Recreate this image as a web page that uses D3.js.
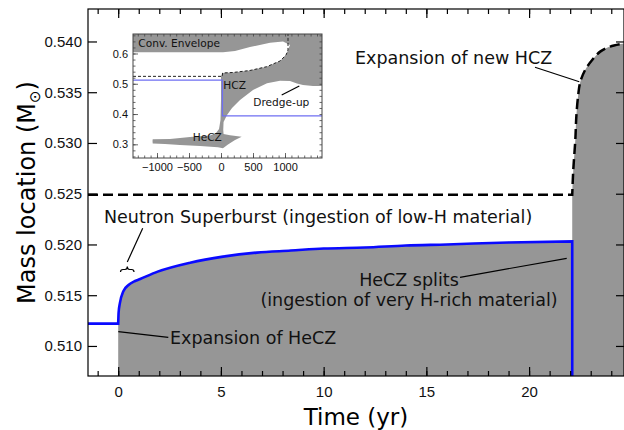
<!DOCTYPE html>
<html>
<head>
<meta charset="utf-8">
<script src="https://cdn.jsdelivr.net/npm/d3@7"></script>
<style>
  html, body { margin: 0; padding: 0; background: #fff; }
  svg { display: block; }
</style>
</head>
<body>
<div id="chart"></div>
<script>
// ---- main panel data (time in yr, mass in Msun) ----
const xDomain = [-1.47, 24.62]
const yDomain = [0.50704, 0.5432]
const xMajor = [0, 5, 10, 15, 20]
const xMinor = d3.range(-1, 25)
const yMajor = [0.510, 0.515, 0.520, 0.525, 0.530, 0.535, 0.540]

const heczBefore = 0.5122   // top of HeCZ before the burst
const splitTime = 22.1      // HeCZ splits
const hczBase = 0.5249      // base of H-rich layer (dashed)

// top of the HeCZ after the neutron superburst (blue)
const hecz_t = [0, 0.02, 0.08, 0.25, 0.5, 0.82, 1.07, 1.89, 3.5, 5.1, 6.75, 8.4, 10, 12, 14, 16, 19, 22.1]
const hecz_m = [0.5122, 0.5133, 0.5142, 0.5154, 0.5160, 0.5164, 0.5166, 0.5173, 0.5182, 0.5188, 0.5192, 0.5194, 0.5196, 0.5197, 0.5199, 0.5200, 0.5202, 0.5203]

// boundary of the new HCZ (dashed)
const newHcz_t = [22.1, 22.15, 22.25, 22.3, 22.39, 22.49, 22.73, 23.08, 23.46, 23.95, 24.62]
const newHcz_m = [0.5249, 0.5273, 0.5303, 0.5326, 0.5347, 0.5360, 0.5372, 0.5382, 0.5390, 0.5395, 0.5398]

// ---- inset data (time in yr, mass in Msun) ----
const insetXDomain = [-1375, 1578]
const insetYDomain = [0.2548, 0.6644]
const insetXMajor = [-1000, -500, 0, 500, 1000]
const insetXMinor = d3.range(-1300, 1600, 100)
const insetYMajor = [0.3, 0.4, 0.5, 0.6]
const insetYMinor = d3.range(0.26, 0.665, 0.02)

// convective regions outline: envelope, HCZ, connecting strip, HeCZ
const insetConv = [
  [-1375, 0.6644], [1578, 0.6644], [1578, 0.4927], [1437, 0.4927], [1281, 0.4960],
  [1187, 0.5010], [1078, 0.5092], [922, 0.5102], [719, 0.5017], [500, 0.4795],
  [297, 0.4465], [172, 0.4201], [94, 0.3970], [40, 0.3740], [35, 0.3475],
  [40, 0.3343], [141, 0.3300], [323, 0.3254], [219, 0.3145], [109, 0.2997],
  [31, 0.2871], [-47, 0.2904], [-328, 0.2947], [-641, 0.2980], [-875, 0.3013],
  [-1067, 0.3030], [-1070, 0.3112], [-1067, 0.3168], [-797, 0.3178], [-484, 0.3244],
  [-172, 0.3294], [-78, 0.3376], [-31, 0.3508], [-8, 0.3805], [0, 0.4465],
  [0, 0.5257], [23, 0.5356], [188, 0.5373], [453, 0.5439], [714, 0.5564],
  [922, 0.5752], [1016, 0.5950], [1047, 0.6116], [1078, 0.6281], [969, 0.6396],
  [766, 0.6356], [453, 0.6215], [219, 0.6083], [31, 0.6040], [-1375, 0.6040]
]
const insetDash = [
  [-1375, 0.5245], [22, 0.5245], [23, 0.5356], [188, 0.5373], [453, 0.5439],
  [714, 0.5564], [922, 0.5752], [1016, 0.5950], [1047, 0.6116], [1047, 0.6644]
]
const insetBlue = [[-1375, 0.5122], [22, 0.5122], [22, 0.394], [1578, 0.394]]

const gray = "#969696"
const tickFont = "'Liberation Sans', Arial, sans-serif"
const textFont = "'DejaVu Sans', sans-serif"

const width = 624
const height = 430
const svg = d3.select("#chart").append("svg")
    .attr("width", width)
    .attr("height", height)

const x = d3.scaleLinear().domain(xDomain).range([88, 624])
const y = d3.scaleLinear().domain(yDomain).range([376, 9])

svg.append("clipPath").attr("id", "plot-clip")
    .append("rect")
    .attr("x", x(xDomain[0])).attr("y", y(yDomain[1]))
    .attr("width", x(xDomain[1]) - x(xDomain[0]))
    .attr("height", y(yDomain[0]) - y(yDomain[1]))

const plot = svg.append("g").attr("clip-path", "url(#plot-clip)")

const heczPts = hecz_t.map((t, i) => [t, hecz_m[i]])
const newPts = newHcz_t.map((t, i) => [t, newHcz_m[i]])

// HeCZ after the burst
plot.append("path")
    .datum(heczPts)
    .attr("fill", gray)
    .attr("d", d3.area()
        .x(d => x(d[0]))
        .y0(y(yDomain[0]))
        .y1(d => y(d[1]))
        .curve(d3.curveMonotoneX))

// new HCZ
const newCurve = d3.line()
    .x(d => x(d[0]))
    .y(d => y(d[1]))
    .curve(d3.curveCatmullRom.alpha(0.5))(newPts)
plot.append("path")
    .attr("fill", gray)
    .attr("d", `M${x(splitTime)},${y(yDomain[0])}L${newCurve.slice(1)}L${x(xDomain[1])},${y(yDomain[0])}Z`)

// blue: top of HeCZ
const blueCurve = d3.line()
    .x(d => x(d[0]))
    .y(d => y(d[1]))
    .curve(d3.curveMonotoneX)(heczPts)
plot.append("path")
    .attr("fill", "none")
    .attr("stroke", "#0a0aff")
    .attr("stroke-width", 2.6)
    .attr("d", `M${x(xDomain[0])},${y(heczBefore)}L${blueCurve.slice(1)}L${x(splitTime)},${y(yDomain[0]) + 2}`)

// dashed: H-rich boundary / new HCZ
plot.append("path")
    .attr("fill", "none")
    .attr("stroke", "#000")
    .attr("stroke-width", 2.5)
    .attr("stroke-dasharray", "10,5")
    .attr("d", `M${x(xDomain[0])},${y(hczBase)}L${newCurve.slice(1)}`)

// axes (ticks inward on all sides)
function styleAxis(g) {
    g.select(".domain").remove()
    g.selectAll(".tick line").attr("stroke", "#000").attr("stroke-width", 1.2)
    g.selectAll("text").attr("font-family", tickFont).attr("font-size", 15).attr("fill", "#111")
}
const pBottom = y(yDomain[0])
const pTop = y(yDomain[1])
const pLeft = x(xDomain[0])
const pRight = x(xDomain[1])

svg.append("g").attr("transform", `translate(0,${pBottom})`)
    .call(d3.axisBottom(x).tickValues(xMinor).tickSize(-5).tickFormat(""))
    .call(styleAxis)
svg.append("g").attr("transform", `translate(0,${pBottom})`)
    .call(d3.axisBottom(x).tickValues(xMajor).tickSize(-9).tickPadding(10).tickFormat(d3.format("d")))
    .call(styleAxis)
svg.append("g").attr("transform", `translate(0,${pTop})`)
    .call(d3.axisTop(x).tickValues(xMinor).tickSize(-5).tickFormat(""))
    .call(styleAxis)
svg.append("g").attr("transform", `translate(0,${pTop})`)
    .call(d3.axisTop(x).tickValues(xMajor).tickSize(-9).tickFormat(""))
    .call(styleAxis)
svg.append("g").attr("transform", `translate(${pLeft},0)`)
    .call(d3.axisLeft(y).tickValues(yMajor).tickSize(-9).tickPadding(6).tickFormat(d3.format(".3f")))
    .call(styleAxis)
svg.append("g").attr("transform", `translate(${pRight},0)`)
    .call(d3.axisRight(y).tickValues(yMajor).tickSize(-8).tickFormat(""))
    .call(styleAxis)

svg.append("rect")
    .attr("x", pLeft).attr("y", pTop)
    .attr("width", pRight - pLeft).attr("height", pBottom - pTop)
    .attr("fill", "none").attr("stroke", "#000").attr("stroke-width", 1.2)

// axis titles
svg.append("text")
    .attr("x", (pLeft + pRight) / 2).attr("y", 424.5)
    .attr("text-anchor", "middle")
    .attr("font-family", textFont).attr("font-size", 23)
    .text("Time (yr)")

const ylab = svg.append("text")
    .attr("transform", `translate(35,${(pTop + pBottom) / 2}) rotate(-90)`)
    .attr("text-anchor", "middle")
    .attr("font-family", textFont).attr("font-size", 24)
ylab.append("tspan").text("Mass location (M")
ylab.append("tspan").attr("font-size", 15).attr("dy", 5).text("⊙")
ylab.append("tspan").attr("dy", -5).text(")")

// annotations
const notes = [
    { lines: ["Expansion of new HCZ"], x: 355, y: 64, anchor: "start", from: [535, 67.3], to: [579.3, 81.7] },
    { lines: ["Neutron Superburst (ingestion of low-H material)"], x: 104, y: 223.3, anchor: "start", from: [142.7, 228.3], to: [127.3, 262] },
    { lines: ["HeCZ splits", "(ingestion of very H-rich material)"], x: 409, y: 286, anchor: "middle", from: [460, 277.3], to: [566.7, 258.3] },
    { lines: ["Expansion of HeCZ"], x: 170, y: 344, anchor: "start", from: [118.3, 331.7], to: [168.3, 337.3] }
]
notes.forEach(n => {
    svg.append("line")
        .attr("x1", n.from[0]).attr("y1", n.from[1])
        .attr("x2", n.to[0]).attr("y2", n.to[1])
        .attr("stroke", "#000").attr("stroke-width", 1.2)
    const t = svg.append("text")
        .attr("font-family", textFont).attr("font-size", 17.5)
        .attr("text-anchor", n.anchor).attr("fill", "#111")
    n.lines.forEach((s, i) => {
        t.append("tspan").attr("x", n.x).attr("y", n.y + i * 20).text(s)
    })
})
// brace under the superburst label
svg.append("path")
    .attr("fill", "none").attr("stroke", "#000").attr("stroke-width", 1.2)
    .attr("d", "M120.5,272 Q120.5,269.5 123,269.5 L125,269.5 Q127.3,269.5 127.3,266.5 Q127.3,269.5 129.6,269.5 L131.6,269.5 Q134,269.5 134,272")

// ---- inset ----
const xi = d3.scaleLinear().domain(insetXDomain).range([133, 322])
const yi = d3.scaleLinear().domain(insetYDomain).range([158, 34])
const inset = svg.append("g")

inset.append("rect")
    .attr("x", xi(insetXDomain[0])).attr("y", yi(insetYDomain[1]))
    .attr("width", xi(insetXDomain[1]) - xi(insetXDomain[0]))
    .attr("height", yi(insetYDomain[0]) - yi(insetYDomain[1]))
    .attr("fill", "#fff")

svg.append("clipPath").attr("id", "inset-clip")
    .append("rect")
    .attr("x", xi(insetXDomain[0])).attr("y", yi(insetYDomain[1]))
    .attr("width", xi(insetXDomain[1]) - xi(insetXDomain[0]))
    .attr("height", yi(insetYDomain[0]) - yi(insetYDomain[1]))

const insetPlot = inset.append("g").attr("clip-path", "url(#inset-clip)")
const iline = d3.line().x(d => xi(d[0])).y(d => yi(d[1]))

insetPlot.append("path")
    .datum(insetConv)
    .attr("fill", gray)
    .attr("d", d => iline(d) + "Z")
insetPlot.append("path")
    .datum(insetBlue)
    .attr("fill", "none").attr("stroke", "#6f6ff2").attr("stroke-width", 1.3)
    .attr("d", iline)
insetPlot.append("path")
    .datum(insetDash)
    .attr("fill", "none").attr("stroke", "#222").attr("stroke-width", 1)
    .attr("stroke-dasharray", "3,2")
    .attr("d", iline)

function styleInsetAxis(g) {
    g.select(".domain").remove()
    g.selectAll(".tick line").attr("stroke", "#444").attr("stroke-width", 0.8)
    g.selectAll("text").attr("font-family", tickFont).attr("font-size", 11).attr("fill", "#111")
}
const ib = yi(insetYDomain[0])
const itop = yi(insetYDomain[1])
const il = xi(insetXDomain[0])
const ir = xi(insetXDomain[1])
inset.append("g").attr("transform", `translate(0,${ib})`)
    .call(d3.axisBottom(xi).tickValues(insetXMinor).tickSize(-2.5).tickFormat(""))
    .call(styleInsetAxis)
inset.append("g").attr("transform", `translate(0,${ib})`)
    .call(d3.axisBottom(xi).tickValues(insetXMajor).tickSize(-5).tickPadding(5).tickFormat(d3.format("d")))
    .call(styleInsetAxis)
inset.append("g").attr("transform", `translate(0,${itop})`)
    .call(d3.axisTop(xi).tickValues(insetXMinor).tickSize(-2.5).tickFormat(""))
    .call(styleInsetAxis)
inset.append("g").attr("transform", `translate(${il},0)`)
    .call(d3.axisLeft(yi).tickValues(insetYMinor).tickSize(-2.5).tickFormat(""))
    .call(styleInsetAxis)
inset.append("g").attr("transform", `translate(${il},0)`)
    .call(d3.axisLeft(yi).tickValues(insetYMajor).tickSize(-5).tickPadding(5).tickFormat(d3.format(".1f")))
    .call(styleInsetAxis)
inset.append("g").attr("transform", `translate(${ir},0)`)
    .call(d3.axisRight(yi).tickValues(insetYMinor).tickSize(-2.5).tickFormat(""))
    .call(styleInsetAxis)

inset.append("rect")
    .attr("x", il).attr("y", itop)
    .attr("width", ir - il).attr("height", ib - itop)
    .attr("fill", "none").attr("stroke", "#444").attr("stroke-width", 1)

const insetNotes = [
    { text: "Conv. Envelope", x: 138.3, y: 47.3 },
    { text: "HCZ", x: 223.3, y: 89.3 },
    { text: "Dredge-up", x: 253.3, y: 106 },
    { text: "HeCZ", x: 192.7, y: 141 }
]
insetNotes.forEach(n => {
    inset.append("text")
        .attr("x", n.x).attr("y", n.y)
        .attr("font-family", textFont).attr("font-size", 10.6)
        .attr("fill", "#111")
        .text(n.text)
})
inset.append("line")
    .attr("x1", 281.7).attr("y1", 95).attr("x2", 299.3).attr("y2", 86)
    .attr("stroke", "#000").attr("stroke-width", 1.2)
</script>
</body>
</html>
